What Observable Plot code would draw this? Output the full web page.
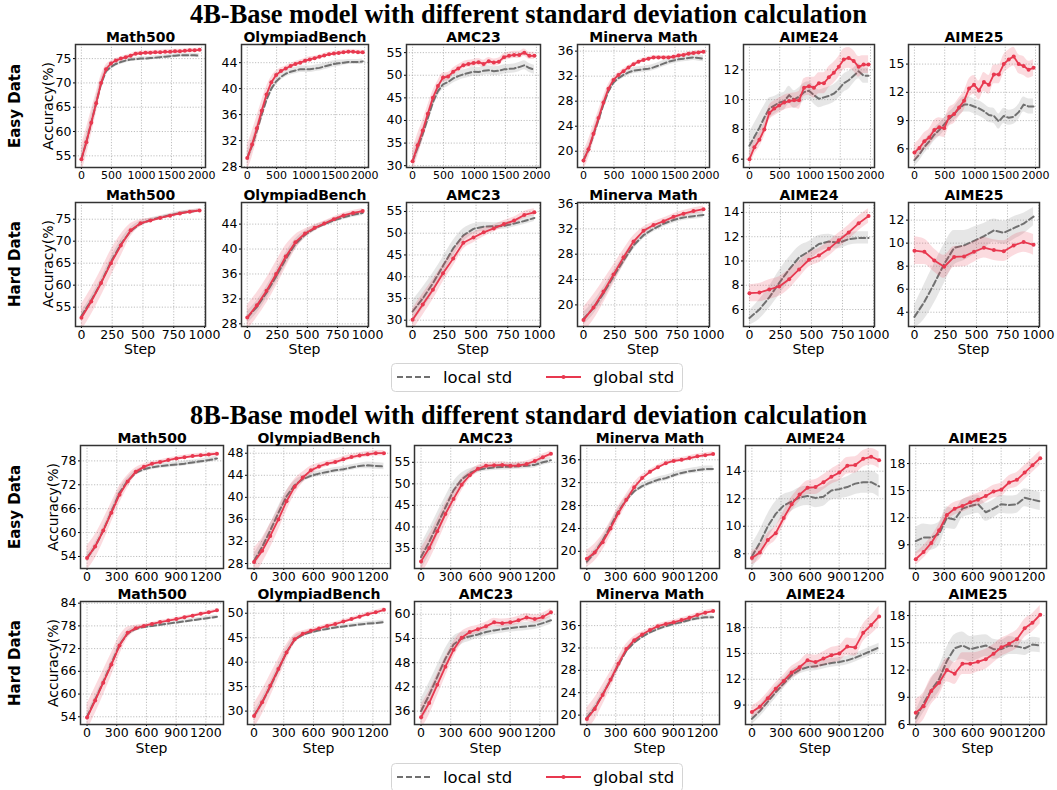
<!DOCTYPE html>
<html><head><meta charset="utf-8">
<script src="https://cdn.jsdelivr.net/npm/d3@7"></script>
<script src="https://cdn.jsdelivr.net/npm/@observablehq/plot@0.6"></script>
<style>
body{margin:0;background:#fff;}
#root{position:relative;width:1057px;height:790px;overflow:hidden;font-family:"DejaVu Sans",sans-serif;color:#000;}
.panel{position:absolute;}
.title{position:absolute;left:0;width:1057px;text-align:center;font-family:"Liberation Serif","Times New Roman",serif;font-weight:bold;font-size:26.4px;line-height:1;white-space:nowrap;}
.rot{position:absolute;transform:translate(-50%,-50%) rotate(-90deg);white-space:nowrap;line-height:1;}
.cen{position:absolute;transform:translate(-50%,-50%);white-space:nowrap;line-height:1;}
.legend{position:absolute;left:391px;}
</style></head>
<body><div id="root"></div>
<script>
// ---------------- DATA ----------------
const benchmarks = ["Math500","OlympiadBench","AMC23","Minerva Math","AIME24","AIME25"];
const steps4Easy = [0,82,164,246,328,410,492,574,656,738,820,902,984,1066,1148,1230,1312,1394,1476,1558,1640,1722,1804,1886,1968];
const steps4Hard = [0,80,160,240,320,400,480,560,640,720,800,880,960];
const steps8 = [0,82,164,246,328,410,492,574,656,738,820,902,984,1066,1148,1230,1312];

// 4B easy
const e4Global = [
 [54.3,57.8,61.8,65.8,70.0,72.8,74.0,74.6,75.0,75.3,75.6,76.0,76.1,76.2,76.2,76.3,76.3,76.4,76.4,76.5,76.5,76.6,76.7,76.7,76.8],
 [29.3,31.4,33.9,36.6,39.1,41.0,42.1,42.7,43.1,43.5,43.8,44.0,44.3,44.5,44.7,44.9,45.1,45.3,45.4,45.5,45.6,45.7,45.7,45.6,45.6],
 [31.0,34.5,37.8,41.5,45.0,47.6,49.5,49.7,50.8,51.5,52.2,52.5,52.7,52.9,52.5,53.1,52.8,53.0,54.0,54.3,54.5,54.5,55.0,54.3,54.3],
 [18.5,20.3,22.8,25.3,27.8,30.0,31.4,32.2,32.8,33.4,33.9,34.3,34.6,34.8,35.0,35.0,35.0,35.0,35.1,35.3,35.4,35.6,35.7,35.8,35.9],
 [6.0,6.8,7.3,8.0,9.1,9.4,9.6,9.8,9.9,9.95,9.95,10.8,10.9,10.8,11.1,11.1,11.5,11.8,12.2,12.7,12.8,12.6,12.2,12.35,12.35],
 [5.6,6.1,6.8,7.2,8.0,8.3,8.2,9.4,9.7,10.4,11.1,12.4,12.8,12.2,13.1,12.8,13.9,13.9,15.0,15.5,15.8,15.0,14.8,14.4,14.6]
];
const e4Local = [
 [54.3,57.8,61.8,65.8,69.8,72.4,73.3,73.9,74.3,74.6,74.8,74.9,75.0,75.0,75.1,75.2,75.3,75.4,75.5,75.6,75.7,75.7,75.7,75.7,75.6],
 [29.3,31.2,33.5,36.0,38.3,40.0,41.1,41.8,42.3,42.6,42.8,43.0,43.0,43.0,43.1,43.2,43.4,43.6,43.8,43.9,44.0,44.1,44.1,44.1,44.2],
 [31.0,34.0,37.0,40.5,44.0,46.5,48.0,48.5,49.3,49.8,50.2,50.5,50.8,50.7,51.0,51.1,50.9,51.0,51.3,51.4,51.5,51.8,52.2,51.6,51.2],
 [18.6,20.2,22.6,25.0,27.5,29.6,31.0,31.7,32.2,32.6,32.9,33.0,33.1,33.2,33.4,33.7,34.0,34.3,34.5,34.7,34.8,34.9,35.0,34.9,34.8],
 [6.9,7.5,8.1,8.8,9.4,9.6,9.8,9.9,10.3,10.0,10.2,10.5,10.6,10.3,10.05,10.15,10.25,10.4,10.7,11.1,11.3,11.6,11.9,11.6,11.6],
 [4.8,5.4,6.2,6.8,7.5,8.0,8.6,9.2,9.7,10.3,10.7,10.7,10.5,10.3,10.0,9.6,9.5,8.9,9.5,9.3,9.4,9.9,10.7,10.5,10.5]
];
const e4GlobalSd = [
 [2.8,2.8,2.6,2.2,1.6,0.9,0.5,0.4,0.4,0.4,0.4,0.4,0.4,0.4,0.4,0.4,0.4,0.4,0.4,0.4,0.4,0.4,0.4,0.4,0.4],
 [2.0,2.0,1.8,1.5,1.2,0.8,0.6,0.5,0.4,0.4,0.4,0.4,0.4,0.4,0.3,0.3,0.3,0.3,0.3,0.3,0.3,0.3,0.3,0.3,0.3],
 [2.5,2.5,2.2,1.8,1.5,1.2,1.0,0.9,0.8,0.8,0.8,0.8,0.8,0.8,0.8,0.8,0.8,0.8,0.8,0.8,0.8,0.8,0.8,0.8,0.8],
 [1.5,1.5,1.4,1.2,1.0,0.7,0.5,0.4,0.4,0.3,0.3,0.3,0.3,0.3,0.3,0.3,0.3,0.3,0.3,0.3,0.3,0.3,0.3,0.3,0.3],
 [0.5,0.5,0.5,0.5,0.5,0.5,0.5,0.5,0.5,0.5,0.6,0.6,0.6,0.7,0.7,0.7,0.7,0.7,0.7,0.7,0.7,0.7,0.7,0.6,0.6],
 [0.9,0.9,0.9,0.9,1.0,1.0,1.0,1.0,1.0,1.0,1.0,1.0,1.0,1.0,1.0,1.0,1.0,1.0,1.0,1.0,1.0,1.0,1.0,0.9,0.9]
];
const e4LocalSd = [
 [1.5,1.5,1.5,1.3,1.0,0.8,0.6,0.5,0.5,0.5,0.4,0.4,0.4,0.4,0.4,0.4,0.4,0.4,0.4,0.4,0.4,0.4,0.4,0.4,0.4],
 [1.0,1.0,1.0,0.9,0.8,0.7,0.6,0.5,0.5,0.5,0.5,0.5,0.5,0.5,0.5,0.5,0.5,0.5,0.5,0.5,0.4,0.4,0.4,0.4,0.4],
 [1.5,1.5,1.5,1.4,1.3,1.2,1.1,1.0,1.0,1.0,1.0,1.0,1.0,1.0,1.0,1.0,1.0,1.0,1.0,1.0,1.0,1.0,1.0,1.0,1.0],
 [0.8,0.8,0.8,0.8,0.7,0.6,0.5,0.5,0.5,0.5,0.5,0.5,0.5,0.5,0.5,0.5,0.5,0.5,0.5,0.5,0.5,0.5,0.5,0.5,0.5],
 [0.9,0.9,0.9,0.8,0.7,0.6,0.6,0.6,0.6,0.6,0.6,0.6,0.6,0.6,0.6,0.6,0.6,0.6,0.6,0.6,0.6,0.5,0.5,0.5,0.5],
 [0.7,0.7,0.7,0.7,0.7,0.7,0.7,0.7,0.7,0.8,0.8,0.8,0.8,0.8,0.8,0.8,0.8,0.8,0.8,0.8,0.8,0.8,0.8,0.8,0.8]
];

// 4B hard
const h4Global = [
 [52.6,56.3,60.5,65.0,69.0,72.5,74.1,74.7,75.3,75.8,76.3,76.7,77.0],
 [29.0,31.0,33.3,36.0,38.8,41.1,42.5,43.4,44.1,44.8,45.4,45.8,46.1],
 [30.1,33.6,37.0,40.8,44.2,47.8,49.0,50.2,51.1,52.1,52.9,54.2,54.8],
 [17.6,19.6,22.1,24.8,27.5,30.0,31.7,32.6,33.2,33.9,34.4,34.8,35.1],
 [7.35,7.4,7.65,7.9,8.5,9.3,10.1,10.45,11.0,11.7,12.35,13.1,13.7],
 [9.35,9.25,8.5,7.95,8.8,8.85,9.25,9.6,9.4,9.3,9.8,10.1,9.85]
];
const h4Local = [
 [53.0,56.5,60.6,65.3,69.3,72.3,74.0,74.8,75.4,75.9,76.4,76.7,77.0],
 [29.0,30.7,33.0,35.6,38.4,40.8,42.3,43.3,44.0,44.6,45.1,45.5,45.8],
 [32.0,35.0,38.5,42.5,46.5,49.5,51.0,51.5,51.6,51.7,52.2,52.8,53.5],
 [17.8,19.5,21.8,24.5,27.0,29.4,31.0,32.0,32.8,33.4,33.8,34.0,34.2],
 [5.3,6.0,7.0,8.2,9.3,10.3,10.8,11.4,11.6,11.5,11.8,11.9,11.9],
 [3.6,4.9,6.5,8.2,9.6,9.8,10.2,10.6,11.1,10.9,11.3,11.7,12.3]
];
const h4GlobalSd = [
 [3,3,3,3,2.5,1.5,0.8,0.5,0.4,0.4,0.4,0.4,0.4],
 [2,2,2,2,1.8,1.2,0.7,0.5,0.4,0.4,0.4,0.4,0.4],
 [2.5,2.5,2.3,2,1.8,1.5,1.2,1,0.8,0.8,0.8,0.8,0.8],
 [2,2,1.8,1.5,1.2,0.9,0.6,0.5,0.5,0.5,0.5,0.5,0.5],
 [0.7,0.75,0.8,0.8,0.8,0.7,0.6,0.6,0.6,0.6,0.6,0.6,0.6],
 [1.2,1.1,1.0,1.0,0.9,0.9,0.9,0.9,0.9,0.9,0.9,0.9,0.9]
];
const h4LocalSd = [
 [1,1,1,1,1,0.8,0.6,0.5,0.4,0.4,0.4,0.4,0.4],
 [1,1,1,1,1,0.8,0.6,0.5,0.4,0.4,0.4,0.4,0.4],
 [2.5,2.5,2.3,2,1.8,1.5,1.2,1,0.8,0.8,0.8,0.8,0.8],
 [1,1,1,0.9,0.8,0.7,0.6,0.5,0.5,0.5,0.5,0.5,0.5],
 [0.6,0.8,0.9,1.0,1.0,0.9,0.8,0.7,0.6,0.5,0.5,0.5,0.5],
 [1.0,1.5,1.7,1.7,1.5,1.3,1.2,1.1,1.0,1.0,1.0,0.9,0.8]
];

// 8B easy
const e8Global = [
 [53.6,56.5,60.5,65.0,69.5,72.8,75.3,76.5,77.3,77.7,78.2,78.6,78.9,79.2,79.4,79.6,79.8],
 [28.3,30.3,33.0,36.0,39.3,41.9,43.6,44.9,45.6,46.1,46.4,46.9,47.3,47.6,47.8,48.0,48.0],
 [32.0,35.1,39.0,43.0,46.5,49.8,52.0,53.5,54.2,54.3,54.4,54.2,54.3,54.6,55.3,56.2,57.0],
 [18.7,19.8,21.6,24.0,26.7,29.0,31.2,32.8,33.9,34.7,35.4,35.8,36.0,36.3,36.6,36.8,37.0],
 [7.7,8.1,9.0,9.5,10.6,11.6,12.3,12.8,12.85,13.2,13.6,13.9,14.4,14.45,14.9,15.05,14.8],
 [7.4,8.2,9.2,10.6,12.3,13.0,13.3,13.7,14.0,14.4,14.9,15.1,15.9,16.2,17.0,17.8,18.6]
];
const e8Local = [
 [53.6,56.5,60.5,65.2,70.0,73.0,75.0,75.9,76.4,76.7,76.9,77.1,77.3,77.6,77.9,78.2,78.6],
 [28.5,31.0,34.0,37.2,40.2,42.2,43.3,43.9,44.3,44.6,44.9,45.1,45.4,45.7,45.8,45.7,45.6],
 [33.0,36.5,40.5,44.5,48.5,51.0,52.5,53.3,53.6,53.8,53.9,54.0,54.1,54.2,54.4,55.0,55.5],
 [18.2,19.8,21.9,24.4,27.0,29.0,30.5,31.4,32.0,32.5,32.8,33.3,33.7,34.0,34.2,34.4,34.4],
 [7.8,8.8,10.0,10.9,11.5,11.8,12.1,12.2,12.05,12.15,12.6,12.7,12.85,13.1,13.2,13.2,12.9],
 [9.4,9.8,9.8,10.2,12.0,11.8,13.0,13.3,13.5,12.6,13.0,13.5,13.4,13.5,14.2,14.0,13.8]
];
const e8GlobalSd = [
 [3,3,2.8,2.5,2.2,1.6,1,0.7,0.5,0.5,0.5,0.5,0.5,0.5,0.5,0.5,0.5],
 [2.5,2.3,2.2,2,1.8,1.4,1,0.8,0.6,0.5,0.5,0.5,0.5,0.5,0.5,0.5,0.5],
 [3,3,2.8,2.5,2,1.5,1,0.8,0.7,0.7,0.7,0.7,0.7,0.7,0.7,0.7,0.7],
 [1.5,1.5,1.4,1.3,1.2,1,0.8,0.6,0.4,0.4,0.4,0.4,0.4,0.4,0.4,0.4,0.4],
 [0.5,0.5,0.5,0.5,0.5,0.5,0.5,0.5,0.55,0.55,0.55,0.6,0.6,0.6,0.6,0.6,0.6],
 [0.7,0.7,0.7,0.7,0.7,0.7,0.7,0.7,0.7,0.7,0.7,0.75,0.75,0.8,0.8,0.8,0.8]
];
const e8LocalSd = [
 [1,1,1,1,0.9,0.8,0.7,0.6,0.6,0.6,0.6,0.6,0.6,0.6,0.6,0.6,0.6],
 [1.2,1.2,1.2,1.1,1.0,0.8,0.6,0.5,0.5,0.5,0.5,0.5,0.5,0.5,0.6,0.6,0.6],
 [3,3,2.8,2.5,2,1.5,1,0.8,0.7,0.7,0.7,0.7,0.7,0.7,0.7,0.7,0.7],
 [0.6,0.6,0.6,0.6,0.6,0.6,0.5,0.5,0.5,0.5,0.5,0.5,0.5,0.5,0.5,0.5,0.5],
 [0.9,0.9,0.9,0.9,0.8,0.7,0.7,0.7,0.7,0.7,0.7,0.7,0.75,0.8,0.8,0.8,0.8],
 [1.5,1.5,1.4,1.3,1.2,1.1,1.0,1.0,1.0,1.0,1.0,1.0,1.0,1.0,1.0,1.0,1.0]
];

// 8B hard
const h8Global = [
 [53.8,58.3,63.0,67.8,72.8,76.2,77.4,78.0,78.5,79.0,79.4,79.8,80.3,80.7,81.2,81.6,82.1],
 [29.0,31.8,35.2,38.6,42.0,44.7,45.8,46.4,46.9,47.4,47.8,48.3,48.8,49.3,49.8,50.2,50.7],
 [34.5,38.0,42.5,47.0,51.2,54.2,55.6,56.3,57.0,58.0,57.8,58.0,58.5,59.2,58.8,59.3,60.5],
 [19.3,21.1,23.6,26.3,29.2,31.8,33.4,34.4,35.2,35.9,36.3,36.6,37.0,37.4,37.9,38.3,38.6],
 [8.2,8.8,9.8,10.9,11.8,12.8,13.4,14.2,14.0,14.4,14.8,15.0,15.8,15.7,17.4,18.3,19.3],
 [7.3,8.0,9.7,10.6,12.0,11.6,12.7,12.7,12.9,13.2,13.8,14.5,14.9,15.4,16.6,17.2,18.1]
];
const h8Local = [
 [54.0,58.5,63.2,68.0,73.0,76.0,77.2,77.7,78.0,78.3,78.6,78.9,79.2,79.5,79.8,80.1,80.4],
 [29.0,31.8,35.0,38.5,42.0,44.6,45.6,46.1,46.5,46.8,47.1,47.3,47.5,47.7,47.9,48.0,48.2],
 [36.0,40.0,44.5,49.0,52.5,54.0,54.5,55.0,55.6,56.0,56.3,56.6,56.8,57.0,57.2,57.8,58.5],
 [19.5,21.3,23.7,26.2,29.0,31.5,33.0,34.0,34.8,35.4,35.9,36.3,36.6,37.0,37.3,37.5,37.5],
 [7.4,8.3,9.4,10.5,11.5,12.5,13.1,13.4,13.5,13.7,13.9,14.0,14.2,14.5,14.9,15.3,15.7],
 [6.7,8.3,9.8,11.0,13.0,14.4,14.7,14.3,14.5,14.7,14.3,14.3,14.7,14.6,14.4,14.8,14.7]
];
const h8GlobalSd = [
 [3.5,3.5,3.3,3,2.5,1.5,0.8,0.5,0.4,0.4,0.4,0.4,0.4,0.4,0.4,0.4,0.4],
 [2.5,2.5,2.3,2,1.6,1.0,0.6,0.5,0.4,0.4,0.4,0.4,0.4,0.4,0.4,0.4,0.4],
 [3,3,2.8,2.5,2,1.5,1.2,1,1,1,1,1,1,1,1,1,1],
 [2,2,1.8,1.5,1.2,0.9,0.7,0.5,0.4,0.4,0.4,0.4,0.4,0.4,0.4,0.4,0.4],
 [0.7,0.7,0.7,0.7,0.7,0.7,0.7,0.7,0.8,0.8,0.9,0.9,1.0,1.0,1.0,1.1,1.2],
 [1.5,1.5,1.5,1.4,1.3,1.2,1.2,1.2,1.1,1.1,1.0,1.0,1.0,1.0,1.0,1.0,1.0]
];
const h8LocalSd = [
 [1,1,1,1,0.9,0.8,0.6,0.5,0.5,0.5,0.5,0.5,0.5,0.5,0.5,0.5,0.5],
 [1,1,1,1,0.9,0.7,0.5,0.4,0.4,0.4,0.4,0.4,0.4,0.4,0.4,0.4,0.4],
 [3,3,2.8,2.5,2,1.5,1.2,1,1,1,1,1,1,1,1,1,1],
 [0.6,0.6,0.6,0.6,0.6,0.5,0.5,0.4,0.4,0.4,0.4,0.4,0.4,0.4,0.4,0.4,0.4],
 [0.7,0.7,0.7,0.7,0.6,0.6,0.5,0.5,0.5,0.5,0.5,0.5,0.5,0.5,0.5,0.5,0.5],
 [0.8,1,1.2,1.4,1.5,1.5,1.5,1.4,1.3,1.2,1.1,1.0,1.0,0.9,0.8,0.8,0.8]
];

// tick labels
const xTicks4Easy = [0,500,1000,1500,2000];
const xTicks4Hard = [0,250,500,750,1000];
const xTicks8 = [0,300,600,900,1200];
const e4YTicks = [[55,60,65,70,75],[28,32,36,40,44],[30,35,40,45,50,55],[20,24,28,32,36],[6,8,10,12],[6,9,12,15]];
const h4YTicks = [[55,60,65,70,75],[28,32,36,40,44],[30,35,40,45,50,55],[20,24,28,32,36],[6,8,10,12,14],[4,6,8,10,12]];
const e8YTicks = [[54,60,66,72,78],[28,32,36,40,44,48],[35,40,45,50,55],[20,24,28,32,36],[8,10,12,14],[9,12,15,18]];
const h8YTicks = [[54,60,66,72,78,84],[30,35,40,45,50],[36,42,48,54,60],[20,24,28,32,36],[9,12,15,18],[6,9,12,15,18]];

// ---------------- LAYOUT ----------------
const RED = "#e8384f", GRAY = "#707070";
const lefts4 = [75,241,406,577,743,908], widths4 = [130,127,134,132,131,131];
const lefts8 = [80,247,414,580,745,909], widths8 = [143,143,143,139,140,137];
const rows = [
 {label:"Easy Data", top:44, h:123, lefts:lefts4, widths:widths4, steps:steps4Easy, xDomain:[-98,2066], xTicks:xTicks4Easy, xFont:11,
  yDomains:[[52.6,77.9],[27.85,46.8],[29.6,56.8],[17.4,37.06],[5.44,13.7],[4.02,17.08]],
  yTicks:e4YTicks, g:e4Global, l:e4Local, gs:e4GlobalSd, ls:e4LocalSd, step:false, accX:48},
 {label:"Hard Data", top:202, h:124, lefts:lefts4, widths:widths4, steps:steps4Hard, xDomain:[-48,1008], xTicks:xTicks4Hard, xFont:12.5,
  yDomains:[[50.6,78.8],[27.57,47.47],[28.55,57.06],[16.59,36.16],[4.6,14.82],[2.76,13.53]],
  yTicks:h4YTicks, g:h4Global, l:h4Local, gs:h4GlobalSd, ls:h4LocalSd, step:true, stepY:349, accX:48},
 {label:"Easy Data", top:445, h:123, lefts:lefts8, widths:widths8, steps:steps8, xDomain:[-66,1378], xTicks:xTicks8, xFont:12.5,
  yDomains:[[50.98,81.86],[27.1,49.4],[30.35,58.9],[17.0,38.5],[6.93,15.87],[6.37,20.0]],
  yTicks:e8YTicks, g:e8Global, l:e8Local, gs:e8GlobalSd, ls:e8LocalSd, step:false, accX:53},
 {label:"Hard Data", top:601, h:123, lefts:lefts8, widths:widths8, steps:steps8, xDomain:[-66,1378], xTicks:xTicks8, xFont:12.5,
  yDomains:[[51.96,84.44],[27.26,52.4],[32.68,63.16],[18.32,40.31],[6.74,21.04],[6.0,19.55]],
  yTicks:h8YTicks, g:h8Global, l:h8Local, gs:h8GlobalSd, ls:h8LocalSd, step:true, stepY:748, accX:53}
];

const root = document.getElementById("root");
function addDiv(cls, text, css) {
  const d = document.createElement("div");
  d.className = cls; d.textContent = text;
  Object.assign(d.style, css);
  root.appendChild(d);
  return d;
}

addDiv("title", "4B-Base model with different standard deviation calculation", {top:"1px"});
addDiv("title", "8B-Base model with different standard deviation calculation", {top:"402px"});

const fmt = d => String(d);
const ML = 34, MR = 8, MT = 22, MB = 24;
rows.forEach(row => {
  const cy = row.top + row.h / 2;
  addDiv("rot", row.label, {left:"15px", top:cy+"px", fontWeight:"bold", fontSize:"15px"});
  addDiv("rot", "Accuracy(%)", {left:row.accX+"px", top:cy+"px", fontSize:"14px"});
  benchmarks.forEach((name, i) => {
    const w = row.widths[i];
    const data = row.steps.map((s, k) => ({step:s, g:row.g[i][k], l:row.l[i][k], gs:row.gs[i][k], ls:row.ls[i][k]}));
    const yT = row.yTicks[i];
    const svg = Plot.plot({
      width: ML + w + MR, height: MT + row.h + MB,
      marginLeft: ML, marginRight: MR, marginTop: MT, marginBottom: MB,
      x: {domain: row.xDomain},
      y: {domain: row.yDomains[i]},
      style: {fontFamily:"DejaVu Sans", fontSize:"12.5px", color:"#000", background:"transparent", overflow:"visible"},
      marks: [
        Plot.gridX(row.xTicks, {stroke:"#9a9a9a", strokeOpacity:0.8, strokeWidth:0.8, strokeDasharray:"1.2,1.6"}),
        Plot.gridY(yT, {stroke:"#9a9a9a", strokeOpacity:0.8, strokeWidth:0.8, strokeDasharray:"1.2,1.6"}),
        Plot.areaY(data, {x:"step", y1:d => d.l - d.ls, y2:d => d.l + d.ls, fill:"#8c8c8c", fillOpacity:0.22, curve:"monotone-x", clip:true}),
        Plot.lineY(data, {x:"step", y:"l", stroke:GRAY, strokeWidth:2, strokeDasharray:"6,3", clip:true}),
        Plot.areaY(data, {x:"step", y1:d => d.g - d.gs, y2:d => d.g + d.gs, fill:RED, fillOpacity:0.18, curve:"monotone-x", clip:true}),
        Plot.lineY(data, {x:"step", y:"g", stroke:RED, strokeWidth:1.8, clip:true}),
        Plot.dot(data, {x:"step", y:"g", r:2, fill:RED, stroke:"none"}),
        Plot.axisX(row.xTicks, {tickSize:2, tickPadding:2, label:null, tickFormat:fmt, fontSize:row.xFont}),
        Plot.axisY(yT, {tickSize:2, tickPadding:2, label:null, tickFormat:fmt}),
        Plot.frame({stroke:"#333", strokeWidth:1.5}),
        Plot.text([name], {frameAnchor:"top", lineAnchor:"bottom", dy:-3, fontWeight:"bold", fontSize:14})
      ]
    });
    const wrap = document.createElement("div");
    wrap.className = "panel";
    wrap.style.left = (row.lefts[i] - ML) + "px";
    wrap.style.top = (row.top - MT) + "px";
    wrap.appendChild(svg);
    root.appendChild(wrap);
    if (row.step) addDiv("cen", "Step", {left:(row.lefts[i] + w / 2)+"px", top:row.stepY+"px", fontSize:"14px"});
  });
});

function legend(top) {
  const ns = "http://www.w3.org/2000/svg";
  const wrap = document.createElement("div");
  wrap.className = "legend";
  wrap.style.top = top + "px";
  wrap.innerHTML = `<svg xmlns="${ns}" width="292" height="30" style="display:block;font-family:'DejaVu Sans';">
    <rect x="0.5" y="0.5" width="291" height="28" rx="4" fill="#fff" stroke="#d4d4d4"/>
    <line x1="6" x2="40" y1="14" y2="14" stroke="${GRAY}" stroke-width="2" stroke-dasharray="6,3"/>
    <text x="52" y="14" dy="0.35em" font-size="16.5">local std</text>
    <line x1="155" x2="190" y1="14" y2="14" stroke="${RED}" stroke-width="1.8"/>
    <circle cx="172.5" cy="14" r="2" fill="${RED}"/>
    <text x="202" y="14" dy="0.35em" font-size="16.5">global std</text>
  </svg>`;
  root.appendChild(wrap);
}
legend(363);
legend(763);
</script>
</body></html>
